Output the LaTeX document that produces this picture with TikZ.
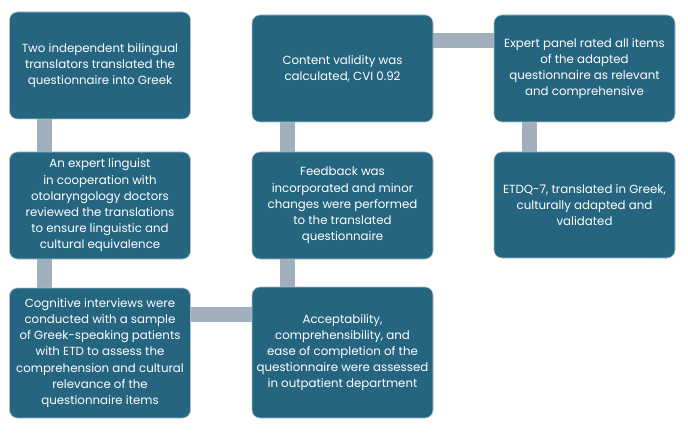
\documentclass[tikz,border=0pt]{standalone}
\usepackage{fontspec}
\setmainfont{Poppins}
\usetikzlibrary{backgrounds}
\definecolor{boxblue}{RGB}{38,101,128}
\definecolor{conngrey}{RGB}{161,175,189}
\tikzset{
  stepbox/.style={draw=boxblue!40, line width=0.6pt, fill=boxblue, rounded corners=8pt,
    text=white, align=center, minimum width=181pt, inner sep=1pt,
    font=\fontsize{11.8}{16.2}\selectfont},
  conn/.style={draw=conngrey, line width=15pt}
}
\begin{document}
\begin{tikzpicture}[x=1pt,y=-1pt]
\useasboundingbox (0,0) rectangle (688,433);
\node[stepbox, minimum height=107pt] (b1) at (100,65.5) {Two independent bilingual\\translators translated the\\questionnaire into Greek};
\node[stepbox, minimum height=107pt] (b2) at (100,205.5) {An expert linguist\\in cooperation with\\otolaryngology doctors\\reviewed the translations\\to ensure linguistic and\\cultural equivalence};
\node[stepbox, minimum height=130pt] (b3) at (100,353) {Cognitive interviews were\\conducted with a sample\\of Greek-speaking patients\\with ETD to assess the\\comprehension and cultural\\relevance of the\\questionnaire items};
\node[stepbox, minimum height=107pt] (b4) at (342.5,68.5) {Content validity was\\calculated, CVI 0.92};
\node[stepbox, minimum height=107pt] (b5) at (342.5,205.5) {Feedback was\\incorporated and minor\\changes were performed\\to the translated\\questionnaire};
\node[stepbox, minimum height=131pt] (b6) at (342.5,352.5) {Acceptability,\\comprehensibility, and\\ease of completion of the\\questionnaire were assessed\\in outpatient department};
\node[stepbox, minimum height=107pt] (b7) at (584.5,68.5) {Expert panel rated all items\\of the adapted\\questionnaire as relevant\\and comprehensive};
\node[stepbox, minimum height=106pt] (b8) at (584.5,205) {ETDQ-7, translated in Greek,\\culturally adapted and\\validated};
\begin{scope}[on background layer]
\draw[conn] ([xshift=35.5pt]b1.south west) -- ([xshift=35.5pt]b2.north west);
\draw[conn] ([xshift=35.5pt]b2.south west) -- ([xshift=35.5pt]b3.north west);
\draw[conn] ([yshift=-26.5pt]b3.north east) -- ([yshift=-26.5pt]b3.north east -| b6.west);
\draw[conn] ([xshift=35.5pt]b6.north west) -- ([xshift=35.5pt]b5.south west);
\draw[conn] ([xshift=35.5pt]b5.north west) -- ([xshift=35.5pt]b4.south west);
\draw[conn] ([yshift=-26pt]b4.north east) -- ([yshift=-26pt]b4.north east -| b7.west);
\draw[conn] ([xshift=36pt]b7.south west) -- ([xshift=36pt]b8.north west);
\end{scope}
\end{tikzpicture}
\end{document}
